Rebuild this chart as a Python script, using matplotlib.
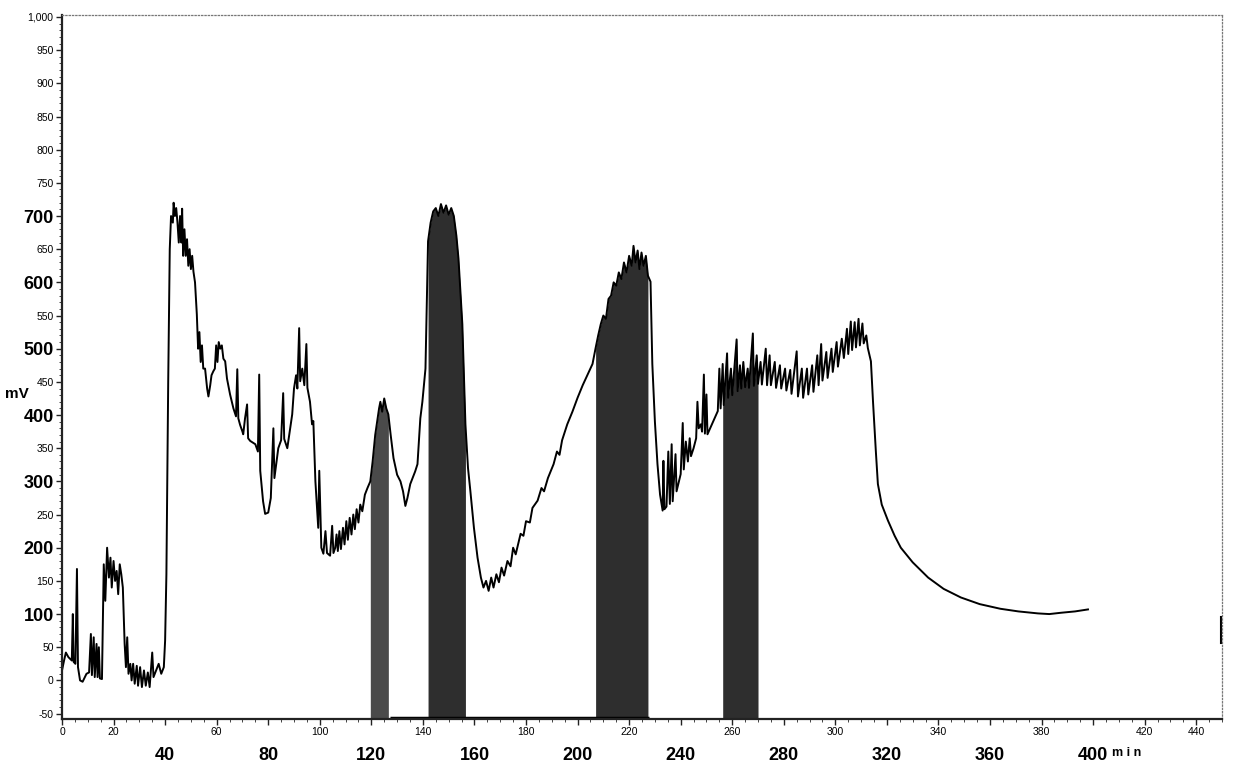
import numpy as np
import matplotlib
matplotlib.use('Agg')
from matplotlib import pyplot as plt
from matplotlib.ticker import MultipleLocator

# trace (time in min, signal in mV)
t_min = [0, 0.8, 1.5, 2.5, 3.8, 4.2, 4.5, 5.2, 5.8, 6.2, 7.0, 8.0, 9.5, 10.5,
         11.2, 11.6, 12.3, 12.7, 13.4, 13.8, 14.3, 14.7, 15.5, 16.2, 16.8, 17.5,
         18.2, 18.8, 19.3, 20.0, 20.6, 21.2, 21.8, 22.4, 23.0, 23.6, 24.3, 24.8,
         25.3, 25.8, 26.5, 27.0, 27.6, 28.2, 29.0, 29.5, 30.3, 31.0, 31.8, 32.5,
         33.3, 34.0, 35.0, 35.5, 36.5, 37.5, 38.5, 39.5, 40.0, 40.5, 41.2, 41.8,
         42.3, 43.0, 43.3, 43.8, 44.3, 44.8, 45.3, 45.8, 46.3, 46.6, 47.0, 47.5,
         48.0, 48.5, 49.0, 49.5, 50.0, 50.5, 51.0, 51.6, 52.3, 52.8, 53.3, 53.8,
         54.3, 54.8, 55.5, 56.3, 56.8, 57.5, 58.0, 58.7, 59.3, 59.8, 60.3, 60.8,
         61.4, 62.0, 62.6, 63.3, 64.0, 65.2, 66.5, 67.5, 68.0, 68.4, 69.1, 70.0,
         70.3, 71.0, 71.8, 72.2, 73.0, 75.0, 76.0, 76.5, 76.9, 78.0, 78.8, 80.0,
         81.0, 82.0, 82.4, 83.9, 85.0, 85.8, 86.2, 87.4, 89.3, 90.0, 90.8, 91.3,
         92.0, 92.4, 93.2, 94.0, 94.8, 95.2, 96.2, 97.0, 97.5, 98.3, 99.4, 99.8,
         100.6, 101.4, 102.2, 102.8, 104.0, 104.8, 105.3, 106.0, 106.5, 107.0,
         107.6, 108.2, 109.0, 109.6, 110.3, 110.9, 111.6, 112.3, 113.0, 113.6,
         114.3, 115.0, 115.7, 116.5, 117.5, 118.5, 119.6, 120.5, 121.5, 122.3,
         123.0, 123.5, 124.2, 125.0, 125.8, 126.6, 127.5, 128.6, 130.0, 131.3,
         132.3, 133.2, 134.0, 135.1, 137.0, 137.9, 139.0, 139.8, 140.5, 141.0,
         142.0, 143.0, 144.0, 145.0, 146.0, 147.0, 148.0, 149.0, 150.0, 151.0,
         152.0, 153.0, 153.8, 155.3, 156.5, 157.5, 158.4, 159.8, 161.2, 162.5,
         163.5, 164.5, 165.5, 166.5, 167.4, 168.5, 169.5, 170.5, 171.5, 172.8,
         174.0, 175.0, 176.0, 177.9, 179.0, 180.0, 181.5, 182.5, 184.5, 186.0,
         187.0, 188.5, 190.7, 192.0, 193.0, 194.0, 196.0, 198.0, 200.0, 202.0,
         203.9, 205.8, 207.0, 208.0, 209.0, 210.0, 211.0, 212.0, 213.0, 214.0,
         215.0, 216.0, 217.0, 218.0, 219.0, 220.0, 221.0, 221.7, 222.5, 223.3,
         224.0, 224.8, 225.6, 226.5, 227.3, 228.3, 229.0, 230.0, 231.0, 232.0,
         233.0, 233.3, 233.7, 234.5, 235.2, 235.8, 236.5, 236.9, 238.0, 238.4,
         240.0, 240.8, 241.2, 242.0, 242.8, 243.5, 244.0, 245.0, 246.0, 246.5,
         247.0, 247.8, 248.3, 249.0, 249.4, 250.0, 250.4, 252.0, 254.4, 255.0,
         255.5, 256.3, 256.7, 258.0, 258.4, 259.5, 260.0, 261.7, 262.1, 263.0,
         263.5, 264.3, 265.0, 266.0, 266.5, 268.0, 268.4, 269.5, 270.0, 271.0,
         271.5, 273.0, 273.5, 274.5, 275.0, 276.5, 277.0, 278.5, 279.0, 280.5,
         281.0, 282.5, 283.0, 285.0, 285.5, 287.0, 287.5, 289.0, 289.5, 291.0,
         291.5, 293.0, 293.5, 294.5, 295.0, 296.5, 297.0, 298.5, 299.0, 300.5,
         301.0, 302.5, 303.3, 304.5, 305.0, 306.0, 306.5, 307.5, 308.0, 309.0,
         309.5, 310.5, 311.0, 312.0, 312.6, 313.8, 314.6, 315.7, 316.5, 318.0,
         320.4, 323.0, 325.4, 330.0, 336.0, 342.0, 348.7, 356.0, 364.0, 371.0,
         378.6, 383.0, 387.6, 393.0, 398.0]
mv = [15, 30, 42, 35, 30, 100, 28, 25, 168, 20, 0, -2, 10, 12,
      70, 8, 65, 5, 55, 5, 50, 3, 2, 175, 120, 200,
      155, 185, 140, 180, 150, 165, 130, 175, 160, 140, 55, 20,
      65, 10, 25, 0, 25, -5, 22, -8, 20, -10, 15, -8,
      12, -10, 42, 5, 15, 25, 10, 20, 60, 160, 450, 650,
      700, 690, 720, 700, 712, 690, 660, 700, 660, 711, 640, 680,
      640, 665, 625, 650, 620, 640, 616, 600, 552, 500, 525, 480,
      505, 470, 470, 440, 428, 445, 460, 466, 470, 505, 480, 510,
      500, 505, 485, 481, 455, 431, 410, 398, 469, 395, 385, 375,
      371, 395, 416, 365, 361, 356, 345, 461, 316, 270, 251, 253,
      275, 380, 305, 350, 362, 433, 364, 350, 401, 440, 460, 440,
      531, 451, 470, 445, 507, 441, 420, 386, 391, 300, 230, 316,
      200, 191, 225, 192, 188, 233, 192, 200, 220, 195,
      225, 198, 230, 205, 240, 212, 245, 220, 250, 228,
      258, 238, 265, 255, 280, 290, 300, 330, 370, 391,
      410, 420, 405, 425, 410, 401, 370, 335, 310, 300,
      285, 263, 275, 296, 315, 326, 395, 420, 450, 470,
      662, 690, 707, 712, 700, 718, 705, 716, 702, 712,
      700, 670, 636, 537, 386, 320, 286, 230, 185, 155,
      140, 150, 135, 155, 140, 160, 148, 170, 158, 180,
      172, 200, 190, 221, 218, 240, 238, 260, 271, 290,
      285, 305, 326, 345, 340, 362, 386, 405, 426, 445,
      461, 477, 501, 520, 537, 550, 545, 575, 580, 600,
      595, 615, 605, 630, 615, 640, 625, 655, 630, 648,
      620, 645, 625, 640, 610, 601, 477, 390, 326, 280,
      256, 331, 258, 262, 345, 266, 356, 270, 341, 285,
      311, 388, 318, 360, 330, 365, 338, 350, 365, 420,
      380, 386, 375, 461, 372, 431, 371, 385, 406, 470,
      410, 477, 415, 493, 426, 470, 430, 514, 436, 475,
      440, 480, 442, 470, 441, 523, 444, 490, 447, 480,
      446, 500, 445, 490, 445, 480, 441, 475, 440, 470,
      437, 468, 432, 496, 428, 470, 426, 470, 431, 475,
      435, 490, 445, 507, 452, 495, 456, 500, 465, 510,
      473, 515, 486, 530, 492, 541, 498, 540, 502, 545,
      505, 538, 508, 520, 501, 481, 421, 346, 296, 265,
      241, 218, 200, 178, 155, 138, 125, 115, 108, 104,
      101, 100, 102, 104, 107]

# short blip at the far right end
blip_t = [449.6, 449.6]
blip_mv = [57, 95]

# shaded (collected) fractions, start/end in min
fractions = [(119.2, 127.4), (141.7, 157.3), (207.0, 227.6), (256.3, 270.3)]

x_ticks = list(range(0, 441, 20))
big_x = [40, 80, 120, 160, 200, 240, 280, 320, 360, 400]
y_ticks = list(range(-50, 1001, 50))
big_y = [100, 200, 300, 400, 500, 600, 700]

narrow = ['Liberation Sans Narrow', 'Liberation Sans', 'DejaVu Sans']

fig = plt.figure(figsize=(12.4, 7.73), dpi=100)
ax = fig.add_axes([0.05, 0.07, 0.9355, 0.9106])

t = np.array(t_min)
y = np.array(mv)
ymin = -58
ax.plot(t, y, color='black', lw=1.4)
ax.plot(blip_t, blip_mv, color='black', lw=1.5)

for i, (a, b) in enumerate(fractions):
    m = (t >= a) & (t <= b)
    ax.fill_between(t, ymin, y, where=m, color='#4a4a4a' if i == 0 else '#2e2e2e',
                    lw=0)
# thick baseline under the collected part
ax.hlines(ymin + 1, fractions[0][1], fractions[2][1], color='black', lw=2.5)

ax.set_xlim(0, 450)
ax.set_ylim(ymin, 1003)

# x ticks: small labels every 20, big bold ones placed lower
ax.set_xticks(x_ticks)
ax.set_xticklabels(['' if v in big_x else str(v) for v in x_ticks],
                   fontsize=7.5, family=narrow)
ax.xaxis.set_minor_locator(MultipleLocator(5))
for v in big_x:
    ax.text(v, -0.04, str(v), transform=ax.get_xaxis_transform(), ha='center',
            va='top', fontsize=13, fontweight='bold', family=narrow)
ax.text(413, -0.04, 'm i n', transform=ax.get_xaxis_transform(), ha='center',
        va='top', fontsize=9, fontweight='bold', family=narrow)

ax.set_yticks(y_ticks)
ax.set_yticklabels(['{:,}'.format(v) for v in y_ticks], family=narrow)
for lbl, v in zip(ax.get_yticklabels(), y_ticks):
    if v in big_y:
        lbl.set_fontsize(13)
        lbl.set_fontweight('bold')
    else:
        lbl.set_fontsize(7.5)
ax.yaxis.set_minor_locator(MultipleLocator(10))
ax.text(-0.029, 0.462, 'mV', transform=ax.transAxes, ha='right', va='center',
        fontsize=11, fontweight='bold', family=narrow)

ax.tick_params(axis='both', which='major', length=4, width=1, pad=2, color='#222222')
ax.tick_params(axis='both', which='minor', length=2, width=0.7, color='#444444')

for side in ['left', 'bottom']:
    ax.spines[side].set_linewidth(1.6)
    ax.spines[side].set_color('#222222')
for side in ['top', 'right']:
    ax.spines[side].set_linewidth(0.9)
    ax.spines[side].set_color('#777777')
    ax.spines[side].set_linestyle(':')

plt.savefig('out.png', dpi=100)
